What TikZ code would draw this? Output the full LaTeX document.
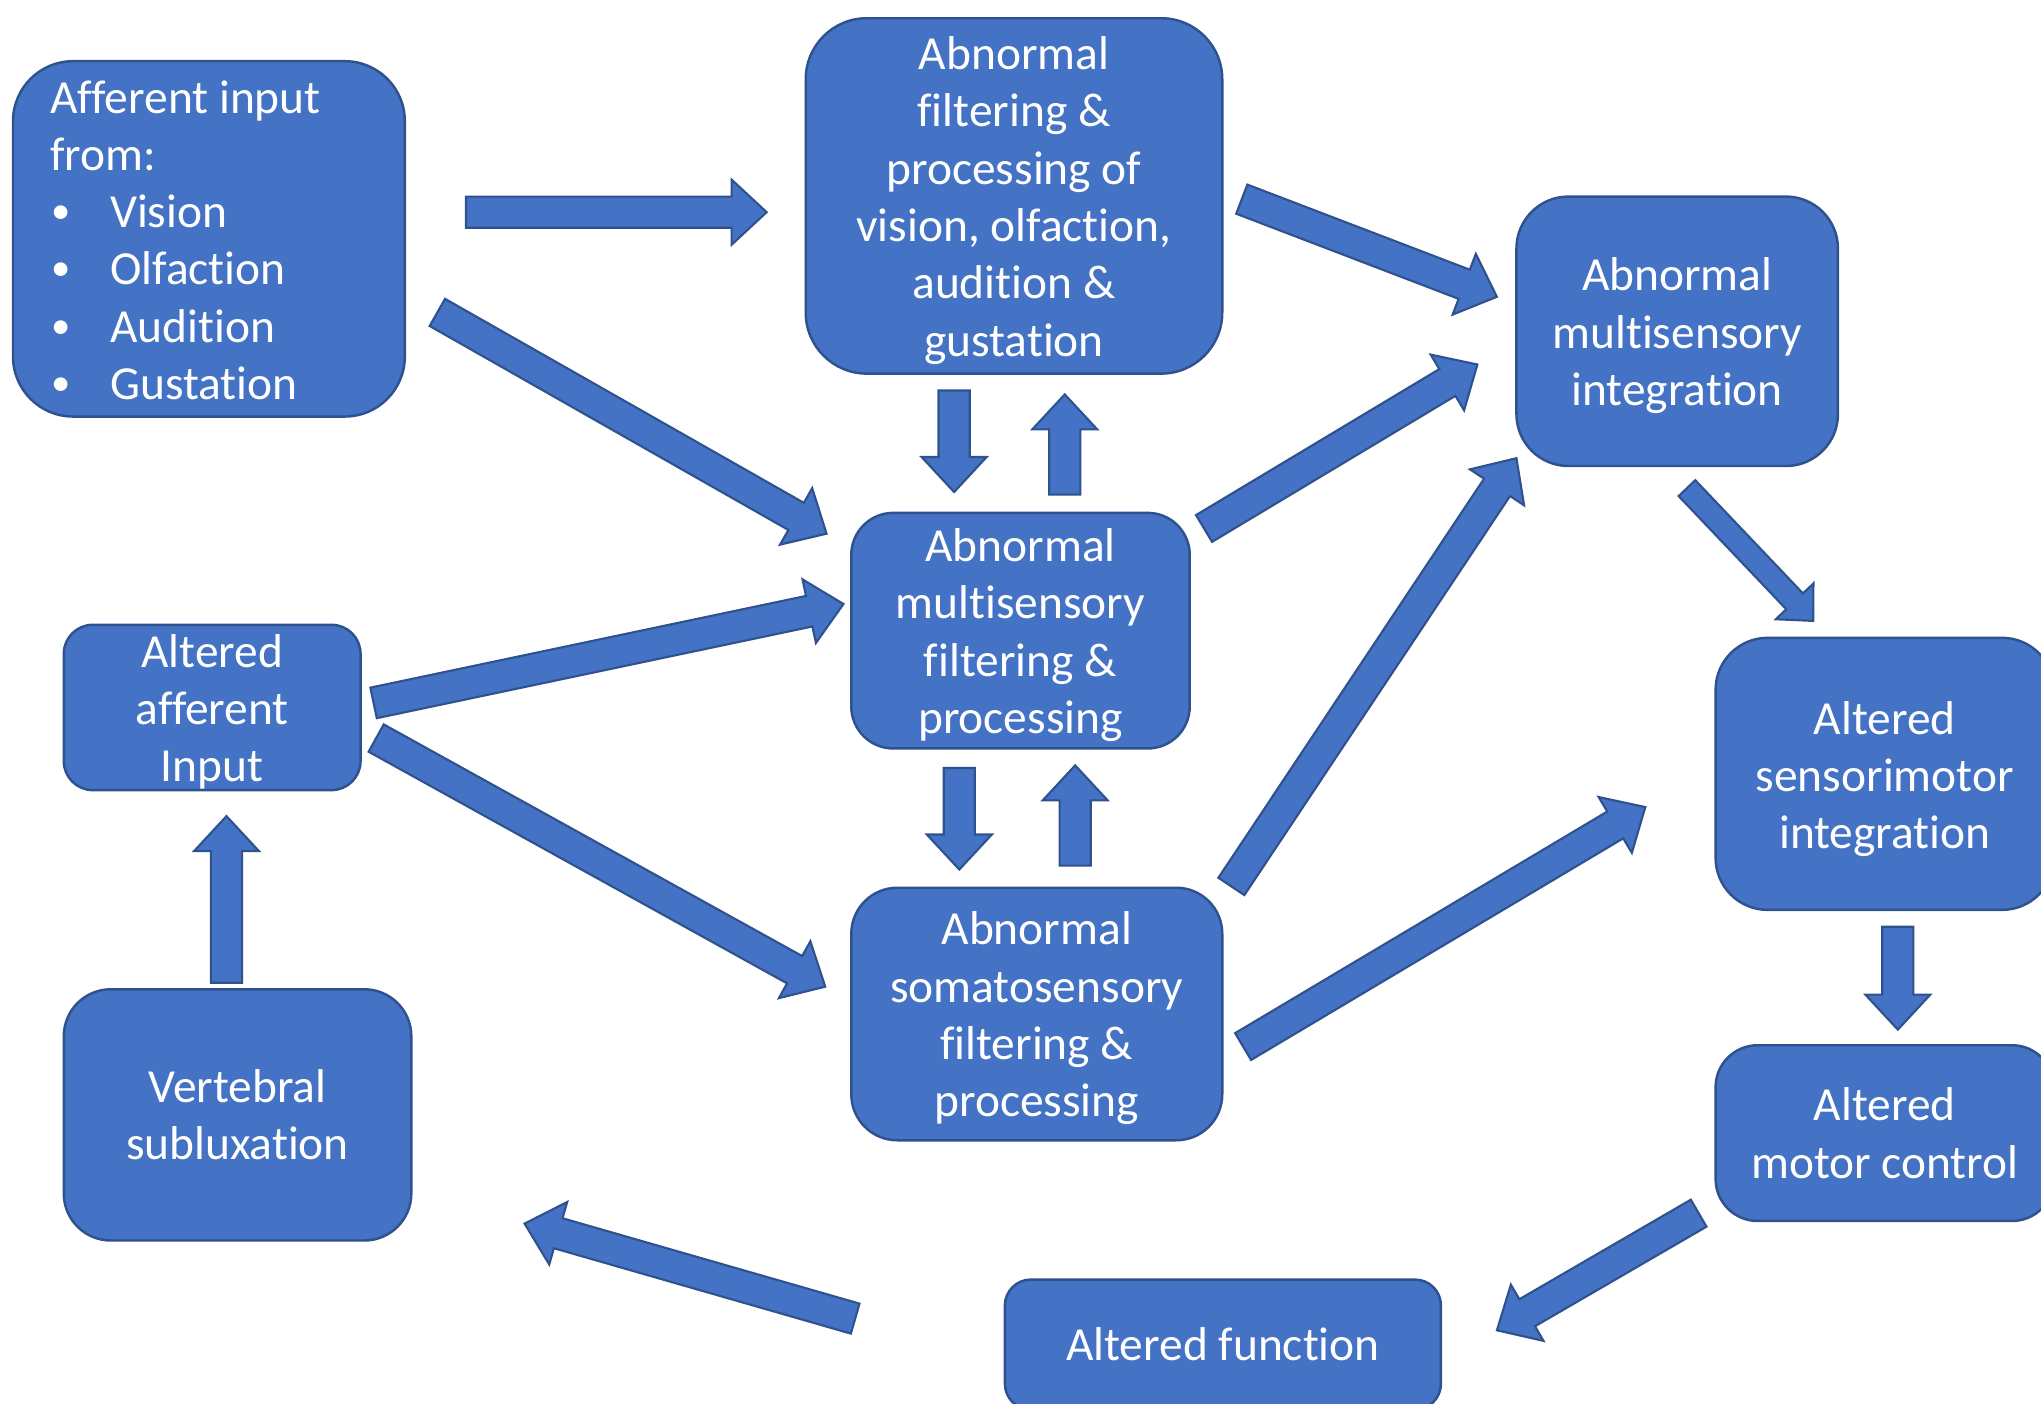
\documentclass[tikz,border=0pt]{standalone}
\usepackage{fontspec}
\setmainfont{Carlito}[Ligatures={NoCommon,NoRare,NoContextual}]
\usetikzlibrary{calc,fit}
\definecolor{boxblue}{HTML}{4472C4}
\definecolor{boxedge}{HTML}{2F528F}

\tikzset{
  box/.style={draw=boxedge, fill=boxblue, line width=0.7pt, inner sep=0pt},
  txt/.style={text=white, align=center, inner sep=0pt,
              font=\fontsize{13.5}{16.3}\selectfont},
  % texts whose last line has descenders sit a little lower
  txtd/.style={txt, yshift=-0.045cm},
  barrow/.style={draw=boxedge, fill=boxblue, line width=0.6pt, line join=miter},
}

% Block arrow from tail #1 to tip #2: half shaft width #3, half head width #4, head length #5
\newcommand\blockarrow[5]{%
  \coordinate (bahead) at ($(#2)!#5!(#1)$);
  \draw[barrow] ($(#1)!#3!90:(#2)$) -- ($(bahead)!#3!90:(#2)$)
    -- ($(bahead)!#4!90:(#2)$) -- (#2) -- ($(bahead)!#4!-90:(#2)$)
    -- ($(bahead)!#3!-90:(#2)$) -- ($(#1)!#3!-90:(#2)$) -- cycle;
}
\newcommand\stdarrow[2]{\blockarrow{#1}{#2}{0.156cm}{0.325cm}{0.35cm}}
\newcommand\bul{\makebox[0.6cm][l]{\hspace{0.01cm}\raisebox{0.04cm}{\fontsize{11}{11}\selectfont\textbullet}}}

\begin{document}
\begin{tikzpicture}[x=0.013017cm, y=-0.013017cm]
\useasboundingbox (0,0) rectangle (1568,1078.6);
\clip (0,0) rectangle (1568,1078.6);

% boxes
\node[box, rounded corners=0.6cm,  fit={(10,47) (311,320)}]   (aff)  {};
\node[box, rounded corners=0.61cm, fit={(619,14) (939,287)}]  (filt) {};
\node[box, rounded corners=0.52cm, fit={(1165,151) (1412,358)}] (msi) {};
\node[box, rounded corners=0.42cm, fit={(654,394) (914,575)}] (msf)  {};
\node[box, rounded corners=0.29cm, fit={(49,480) (277,607)}]  (alt)  {};
\node[box, rounded corners=0.46cm, fit={(654,682) (939,876)}] (som)  {};
\node[box, rounded corners=0.52cm, fit={(1318,490) (1578,699)}] (smi) {};
\node[box, rounded corners=0.42cm, fit={(1318,803) (1578,938)}] (mot) {};
\node[box, rounded corners=0.26cm, fit={(772,983) (1107,1083)}] (fun) {};
\node[box, rounded corners=0.47cm, fit={(49,760) (316,953)}]  (vert) {};

% box texts
\node[txt, align=left, anchor=west] (afftxt) at (38,184.5) {Afferent input\\from:\\
  \bul Vision\\
  \bul Olfaction\\
  \bul Audition\\
  \bul Gustation};
\node[txtd] (filttxt) at (filt) {Abnormal\\filtering \&\\processing of\\vision, olfaction,\\audition \&\\gustation};
\node[txtd] (msitxt) at (msi) {Abnormal\\multisensory\\integration};
\node[txtd] (msftxt) at (msf) {Abnormal\\multisensory\\filtering \&\\processing};
\node[txtd] (alttxt) at (alt) {Altered\\afferent\\Input};
\node[txtd] (somtxt) at (som) {Abnormal\\somatosensory\\filtering \&\\processing};
\node[txtd] (smitxt) at (1448,595) {Altered\\sensorimotor\\integration};
\node[txt] (mottxt) at (1448,870.5) {Altered\\motor control};
\node[txt] (funtxt) at (939.5,1033) {Altered function};
\node[txt] (verttxt) at (vert) {Vertebral\\subluxation};

% arrow end points
\coordinate (aff-filt-s) at (358,163);  \coordinate (aff-filt-e) at (589,163);
\coordinate (aff-msf-s)  at (336,240);  \coordinate (aff-msf-e)  at (635,410);
\coordinate (filt-msf-s) at (733,300);  \coordinate (filt-msf-e) at (733,378);
\coordinate (msf-filt-s) at (818,380);  \coordinate (msf-filt-e) at (818,303);
\coordinate (filt-msi-s) at (954,153);  \coordinate (filt-msi-e) at (1150,228);
\coordinate (msf-msi-s)  at (925,406);  \coordinate (msf-msi-e)  at (1135,280);
\coordinate (alt-msf-s)  at (287,540);  \coordinate (alt-msf-e)  at (648,464);
\coordinate (alt-som-s)  at (289,567);  \coordinate (alt-som-e)  at (634,758);
\coordinate (msf-som-s)  at (737,590);  \coordinate (msf-som-e)  at (737,668);
\coordinate (som-msf-s)  at (826,665);  \coordinate (som-msf-e)  at (826,588);
\coordinate (som-msi-s)  at (946,681);  \coordinate (som-msi-e)  at (1165,352);
\coordinate (som-smi-s)  at (955,804);  \coordinate (som-smi-e)  at (1264,620);
\coordinate (msi-smi-s)  at (1296,375); \coordinate (msi-smi-e)  at (1393,477);
\coordinate (smi-mot-s)  at (1458,712); \coordinate (smi-mot-e)  at (1458,791);
\coordinate (mot-fun-s)  at (1305,932); \coordinate (mot-fun-e)  at (1150,1022);
\coordinate (fun-vert-s) at (657,1013); \coordinate (fun-vert-e) at (403,940);
\coordinate (vert-alt-s) at (174,755);  \coordinate (vert-alt-e) at (174,627);

% block arrows
\stdarrow{aff-filt-s}{aff-filt-e}
\stdarrow{aff-msf-s}{aff-msf-e}
\stdarrow{filt-msf-s}{filt-msf-e}
\stdarrow{msf-filt-s}{msf-filt-e}
\stdarrow{filt-msi-s}{filt-msi-e}
\stdarrow{msf-msi-s}{msf-msi-e}
\stdarrow{alt-msf-s}{alt-msf-e}
\stdarrow{alt-som-s}{alt-som-e}
\stdarrow{msf-som-s}{msf-som-e}
\stdarrow{som-msf-s}{som-msf-e}
\stdarrow{som-msi-s}{som-msi-e}
\stdarrow{som-smi-s}{som-smi-e}
\blockarrow{msi-smi-s}{msi-smi-e}{0.115cm}{0.26cm}{0.27cm}
\stdarrow{smi-mot-s}{smi-mot-e}
\stdarrow{mot-fun-s}{mot-fun-e}
\stdarrow{fun-vert-s}{fun-vert-e}
\stdarrow{vert-alt-s}{vert-alt-e}
\end{tikzpicture}
\end{document}
